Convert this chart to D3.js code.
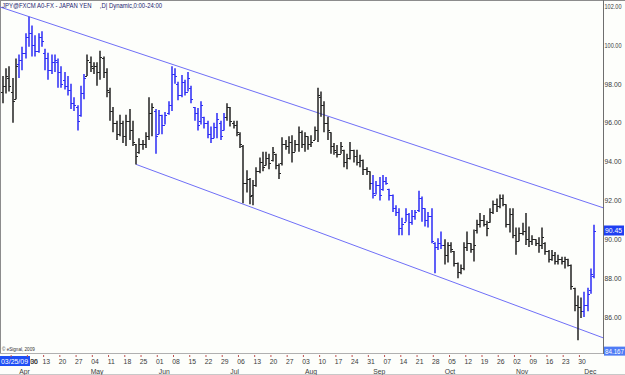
<!DOCTYPE html>
<html><head><meta charset="utf-8">
<script src="https://cdn.jsdelivr.net/npm/d3@7"></script>
<style>html,body{margin:0;padding:0;background:#fdfefb;} svg{display:block}</style>
</head><body>
<svg id="c" width="625" height="375"></svg>
<script>
// ---- DATA (USD/JPY daily OHLC, 2009-03-25 .. 2009-12-04) ----
const startDate = "2009-03-25", endDate = "2009-12-04";
const openV = [
97.6,97.9,98.3,97.6,97.2,99.0,99.2,99.6,100.4,100.6,
100.0,99.7,100.4,99.6,99.3,98.7,99.1,99.1,98.6,98.2,
97.9,97.7,97.0,96.8,96.4,97.5,98.4,99.1,98.8,98.9,
98.6,99.3,98.6,97.6,96.6,96.0,95.4,96.0,95.3,96.1,
95.6,94.9,94.5,94.9,94.9,95.3,96.5,96.6,95.4,96.4,
95.9,96.5,96.9,98.5,98.0,97.4,98.1,97.6,97.8,96.8,
96.5,96.1,96.3,96.0,95.4,95.2,95.8,96.0,95.6,96.3,
96.8,96.0,95.9,95.4,94.8,92.9,93.1,92.3,92.8,93.5,
94.0,93.8,94.2,94.1,94.4,93.8,93.9,94.9,94.8,95.0,
94.5,94.9,95.5,94.9,95.3,94.9,95.1,95.6,97.3,96.9,
96.0,95.5,94.8,94.5,94.4,94.6,94.0,94.2,94.6,94.3,
94.0,94.1,93.6,93.5,92.9,92.3,92.8,92.6,93.0,92.6,
92.3,91.6,91.4,90.6,90.9,91.3,90.9,91.2,91.5,92.1,
91.6,91.0,91.2,89.8,89.6,89.8,89.7,89.2,89.7,89.4,
88.8,88.3,88.5,89.6,89.8,89.5,90.5,90.8,91.0,90.8,
90.9,91.4,91.8,91.7,92.1,91.8,90.8,91.3,90.2,89.9,
90.3,90.4,90.0,89.9,90.0,89.8,89.7,89.8,89.4,89.0,
89.2,88.9,89.0,88.9,89.0,88.7,87.5,86.6,86.5,86.3,
86.6,87.4,88.1];
const highV = [
98.4,98.8,98.9,98.3,99.3,99.5,99.9,100.6,101.45,101.0,
100.5,100.6,100.7,99.8,99.6,99.5,99.5,99.3,98.9,98.6,
98.4,98.0,97.3,96.9,97.9,98.5,99.5,99.4,99.1,99.1,
99.7,99.4,98.8,97.8,96.8,96.1,96.4,96.1,96.4,96.7,
96.1,94.9,95.2,95.1,95.5,97.3,97.0,96.7,96.65,96.4,
96.55,97.1,98.9,98.8,98.1,98.45,98.2,98.6,97.9,96.8,
96.75,97.1,96.3,96.1,95.8,96.0,96.5,96.1,96.5,97.0,
96.8,96.1,96.1,95.5,94.85,93.55,93.15,93.05,93.7,94.2,
94.5,94.5,94.4,94.75,94.4,93.9,95.25,95.1,95.3,95.35,
95.1,95.8,95.6,95.5,95.3,95.35,95.8,97.8,97.6,97.1,
96.3,95.5,94.95,94.85,95.0,94.6,94.4,95.0,94.6,94.6,
94.35,94.1,93.7,93.5,93.3,93.0,93.2,93.3,93.2,92.6,
92.3,91.75,91.6,91.1,91.6,91.35,91.5,91.5,92.5,92.2,
91.6,91.4,91.6,89.85,90.05,90.4,90.0,89.85,89.85,89.4,
88.8,88.7,89.85,90.4,89.8,90.5,91.0,91.35,91.25,90.95,
91.6,92.0,92.1,92.3,92.3,91.8,91.6,91.6,90.6,90.6,
90.85,91.35,90.65,90.2,90.0,90.1,90.6,89.85,89.45,89.45,
89.35,89.2,89.1,89.1,89.0,88.7,87.5,87.1,87.0,87.3,
87.5,88.5,90.75];
const lowV = [
97.0,97.5,97.6,96.0,97.2,98.3,98.7,99.3,99.9,99.4,
99.4,99.6,99.9,98.7,98.2,98.5,98.6,97.8,97.8,97.7,
97.4,96.7,96.6,95.6,96.3,97.2,98.4,98.6,98.5,97.9,
98.2,98.3,97.3,96.1,95.5,95.1,95.3,94.95,94.8,95.1,
94.8,93.85,94.4,94.6,94.7,95.1,95.3,94.4,95.4,95.4,
95.9,96.4,96.6,98.0,97.15,97.3,97.4,97.6,97.0,96.1,
95.6,95.9,95.7,95.2,94.95,95.2,95.2,95.1,95.6,96.1,
95.8,95.7,95.3,94.7,91.85,92.4,91.8,91.75,92.7,93.4,
93.5,93.8,93.6,94.0,93.6,93.1,93.8,94.6,94.4,93.95,
94.5,94.5,94.7,94.5,94.6,94.75,95.1,95.0,96.3,95.5,
95.1,94.4,94.35,94.2,94.4,93.7,93.6,94.1,93.95,93.8,
93.7,93.3,93.3,92.55,92.1,92.3,92.0,92.5,92.8,92.0,
91.4,91.2,90.2,90.2,90.9,90.2,90.75,91.0,91.4,90.9,
90.65,90.6,89.8,88.25,89.45,89.5,88.7,88.8,89.3,88.6,
88.0,88.2,88.4,89.4,89.3,88.85,90.3,90.6,90.65,90.15,
90.85,91.3,91.4,91.6,91.7,90.6,90.35,90.05,89.2,89.9,
90.2,89.7,89.6,89.7,89.65,89.3,89.5,89.2,88.8,88.9,
88.7,88.7,88.7,88.5,88.6,87.4,86.3,84.8,85.95,86.0,
86.3,87.2,88.0];
const closeV = [
97.9,98.4,97.9,97.1,98.9,99.2,99.6,100.4,100.6,100.0,
99.7,100.4,100.2,99.3,98.7,99.1,99.2,98.6,98.0,97.9,
97.7,97.0,96.9,96.1,97.5,98.3,99.2,98.9,98.9,98.6,
99.4,98.6,97.7,96.6,96.0,95.4,96.0,95.3,96.1,95.6,
95.0,94.3,94.9,94.9,95.3,96.5,96.8,95.3,96.4,95.9,
96.4,96.9,98.5,98.4,97.4,98.1,97.6,98.3,97.2,96.5,
95.9,96.9,96.0,95.4,95.2,95.8,96.2,95.3,96.3,96.8,
96.1,95.9,95.5,94.9,92.9,93.1,92.2,92.8,93.5,94.0,
93.7,94.2,93.9,94.5,93.8,93.4,94.9,94.8,95.0,94.5,
94.9,95.5,94.9,95.3,94.9,95.0,95.6,97.4,96.9,96.0,
95.6,94.8,94.6,94.4,94.8,94.0,94.2,94.6,94.3,94.0,
94.1,93.6,93.5,92.9,92.4,92.8,92.3,93.0,92.9,92.3,
91.6,91.4,90.6,90.8,91.3,90.9,91.2,91.4,92.1,91.6,
91.0,91.2,89.9,89.6,89.8,89.7,89.2,89.7,89.5,88.8,
88.3,88.5,89.6,89.8,89.5,89.7,90.8,91.0,90.8,90.6,
91.4,91.8,91.7,92.1,91.8,90.8,91.3,90.2,89.9,90.3,
90.4,90.0,89.9,90.0,89.8,89.7,90.1,89.4,89.0,89.2,
88.9,89.0,88.9,89.0,88.7,87.6,86.6,86.5,86.3,86.6,
87.2,88.2,90.45];
// colour runs of the bars: [firstIndex, lastIndex, colour key]
const colorRuns = [[0,4,"k"],[5,25,"b"],[26,46,"k"],[47,68,"b"],[69,113,"k"],[114,135,"b"],[136,178,"k"],[179,182,"b"]];
// trend channel lines: [barIndex, price]
const upperChannel = [[-0.92, 101.95], [184.8, 91.62]];
const lowerChannel = [[41, 93.85], [184.8, 84.93]];
const priceTicks = [86, 88, 90, 92, 94, 96, 98, 100, 102];
const lastPrice = 90.45;
const bottomPrice = 84.167;
const monthNames = ["Jan","Feb","Mar","Apr","May","Jun","Jul","Aug","Sep","Oct","Nov","Dec"];
const titleText = "JPY@FXCM A0-FX - JAPAN YEN     ,D| Dynamic,0:00-24:00";
const firstDateLabel = "03/25/09";
const copyrightText = "\u00A9 eSignal, 2009";

// ---- trading-day calendar ----
const dates = [];
for (let d = new Date(startDate + "T12:00:00"); d <= new Date(endDate + "T12:00:00"); d.setDate(d.getDate() + 1)) {
  const wd = d.getDay();
  if (wd !== 0 && wd !== 6) dates.push(new Date(d));
}
const bars = dates.map((d, i) => ({i, date: d, o: openV[i], h: highV[i], l: lowV[i], c: closeV[i],
  col: (colorRuns.find(r => i >= r[0] && i <= r[1]) || [0,0,"k"])[2]}));

const svg = d3.select("#c");
const W = 625, H = 375, axisX = 603, baseY = 354;
const x = d3.scaleLinear().domain([0, 182]).range([3, 594]);
const y = d3.scaleLinear().domain([86, 102]).range([317, 6]);
const colors = {k: "#262626", b: "#2f2ff5"};
const font = "'Liberation Sans', Arial, sans-serif";

svg.append("rect").attr("width", W).attr("height", H).attr("fill", "#fdfefb");

// borders
svg.append("line").attr("x1", 0).attr("x2", W).attr("y1", 0.5).attr("y2", 0.5).attr("stroke", "#8c8c8c");
svg.append("line").attr("x1", 0.5).attr("x2", 0.5).attr("y1", 0).attr("y2", baseY).attr("stroke", "#8c8c8c");
svg.append("line").attr("x1", axisX + 0.5).attr("x2", axisX + 0.5).attr("y1", 0).attr("y2", baseY).attr("stroke", "#6e6e6e");
svg.append("line").attr("x1", 0).attr("x2", axisX).attr("y1", baseY - 0.5).attr("y2", baseY - 0.5).attr("stroke", "#b0b0b0");
svg.append("line").attr("x1", 0).attr("x2", W).attr("y1", H - 0.5).attr("y2", H - 0.5).attr("stroke", "#c8c8c8");

// channel lines
const chLine = d3.line().x(d => x(d[0])).y(d => y(d[1]));
[upperChannel, lowerChannel].forEach(ch => {
  svg.append("path").attr("d", chLine(ch)).attr("fill", "none").attr("stroke", "#6f6ff7").attr("stroke-width", 1);
});

// OHLC bars
const g = svg.append("g");
bars.forEach(b => {
  const cx = Math.round(x(b.i));
  const col = colors[b.col];
  g.append("line").attr("x1", cx).attr("x2", cx).attr("y1", y(b.h)).attr("y2", y(b.l))
    .attr("stroke", col).attr("stroke-width", 1.7).attr("stroke-opacity", 0.9);
  g.append("line").attr("x1", cx - 2).attr("x2", cx).attr("y1", Math.round(y(b.o)) + 0.5).attr("y2", Math.round(y(b.o)) + 0.5)
    .attr("stroke", col).attr("stroke-width", 1);
  g.append("line").attr("x1", cx).attr("x2", cx + 2).attr("y1", Math.round(y(b.c)) + 0.5).attr("y2", Math.round(y(b.c)) + 0.5)
    .attr("stroke", col).attr("stroke-width", 1);
});

// right price axis
const ax = d3.axisRight(y).tickValues(priceTicks).tickFormat(d3.format(".2f")).tickSize(1).tickPadding(0.5);
const axG = svg.append("g").attr("transform", `translate(${axisX},0)`).call(ax);
axG.select(".domain").remove();
axG.selectAll(".tick line").attr("stroke", "#6e6e6e");
axG.selectAll(".tick text").attr("font-family", font).attr("font-size", 7).attr("fill", "#3a3a3a")
  .attr("textLength", 17).attr("lengthAdjust", "spacingAndGlyphs");

// last price marker
const lpY = y(lastPrice);
svg.append("rect").attr("x", axisX + 1).attr("y", lpY - 5).attr("width", 20).attr("height", 10).attr("fill", "#1f3ff2");
svg.append("text").attr("x", axisX + 2).attr("y", lpY + 2.5).text(lastPrice.toFixed(2))
  .attr("font-family", font).attr("font-size", 7).attr("fill", "#ffffff").attr("textLength", 17).attr("lengthAdjust", "spacingAndGlyphs");
// bottom price of scale
const bpY = y(bottomPrice);
svg.append("rect").attr("x", axisX + 1).attr("y", bpY - 6).attr("width", 21).attr("height", 9).attr("fill", "#4f7cf5");
svg.append("text").attr("x", axisX + 2).attr("y", bpY + 1.5).text(String(bottomPrice))
  .attr("font-family", font).attr("font-size", 7).attr("fill", "#ffffff").attr("textLength", 19).attr("lengthAdjust", "spacingAndGlyphs");

// title
svg.append("text").attr("x", 2).attr("y", 8).text(titleText).attr("font-family", font).attr("font-size", 7.2)
  .attr("fill", "#1c1c70").attr("textLength", 160).attr("lengthAdjust", "spacingAndGlyphs").attr("xml:space", "preserve").style("white-space", "pre");
// copyright
svg.append("text").attr("x", 2).attr("y", 351).text(copyrightText).attr("font-family", font).attr("font-size", 4.6)
  .attr("fill", "#333");

// date axis
const boxW = 30;
svg.append("rect").attr("x", 0).attr("y", 356).attr("width", boxW).attr("height", 10).attr("fill", "#1f4ff5");
svg.append("text").attr("x", 1).attr("y", 364).text(firstDateLabel).attr("font-family", font).attr("font-size", 7)
  .attr("fill", "#fff").attr("textLength", 27).attr("lengthAdjust", "spacingAndGlyphs");
bars.forEach(b => {
  if (b.date.getDay() === 1) {
    const tx = x(b.i) - 1.6;
    svg.append("line").attr("x1", tx).attr("x2", tx).attr("y1", baseY + 1).attr("y2", baseY + 3)
      .attr("stroke", "#c05050").attr("stroke-width", 1);
    let lx = x(b.i) + 1;
    if (lx - 3 < boxW + 1) lx = boxW + 4;
    svg.append("text").attr("x", lx).attr("y", 364).attr("text-anchor", "middle")
      .text(d3.timeFormat("%d")(b.date)).attr("font-family", font).attr("font-size", 6.8).attr("fill", "#3a3a3a");
  }
  if (b.i > 0 && b.date.getMonth() !== bars[b.i - 1].date.getMonth()) {
    svg.append("text").attr("x", x(b.i)).attr("y", 373.5).text(monthNames[b.date.getMonth()])
      .attr("font-family", font).attr("font-size", 6.8).attr("fill", "#3a3a3a");
  }
});
</script>
</body></html>
